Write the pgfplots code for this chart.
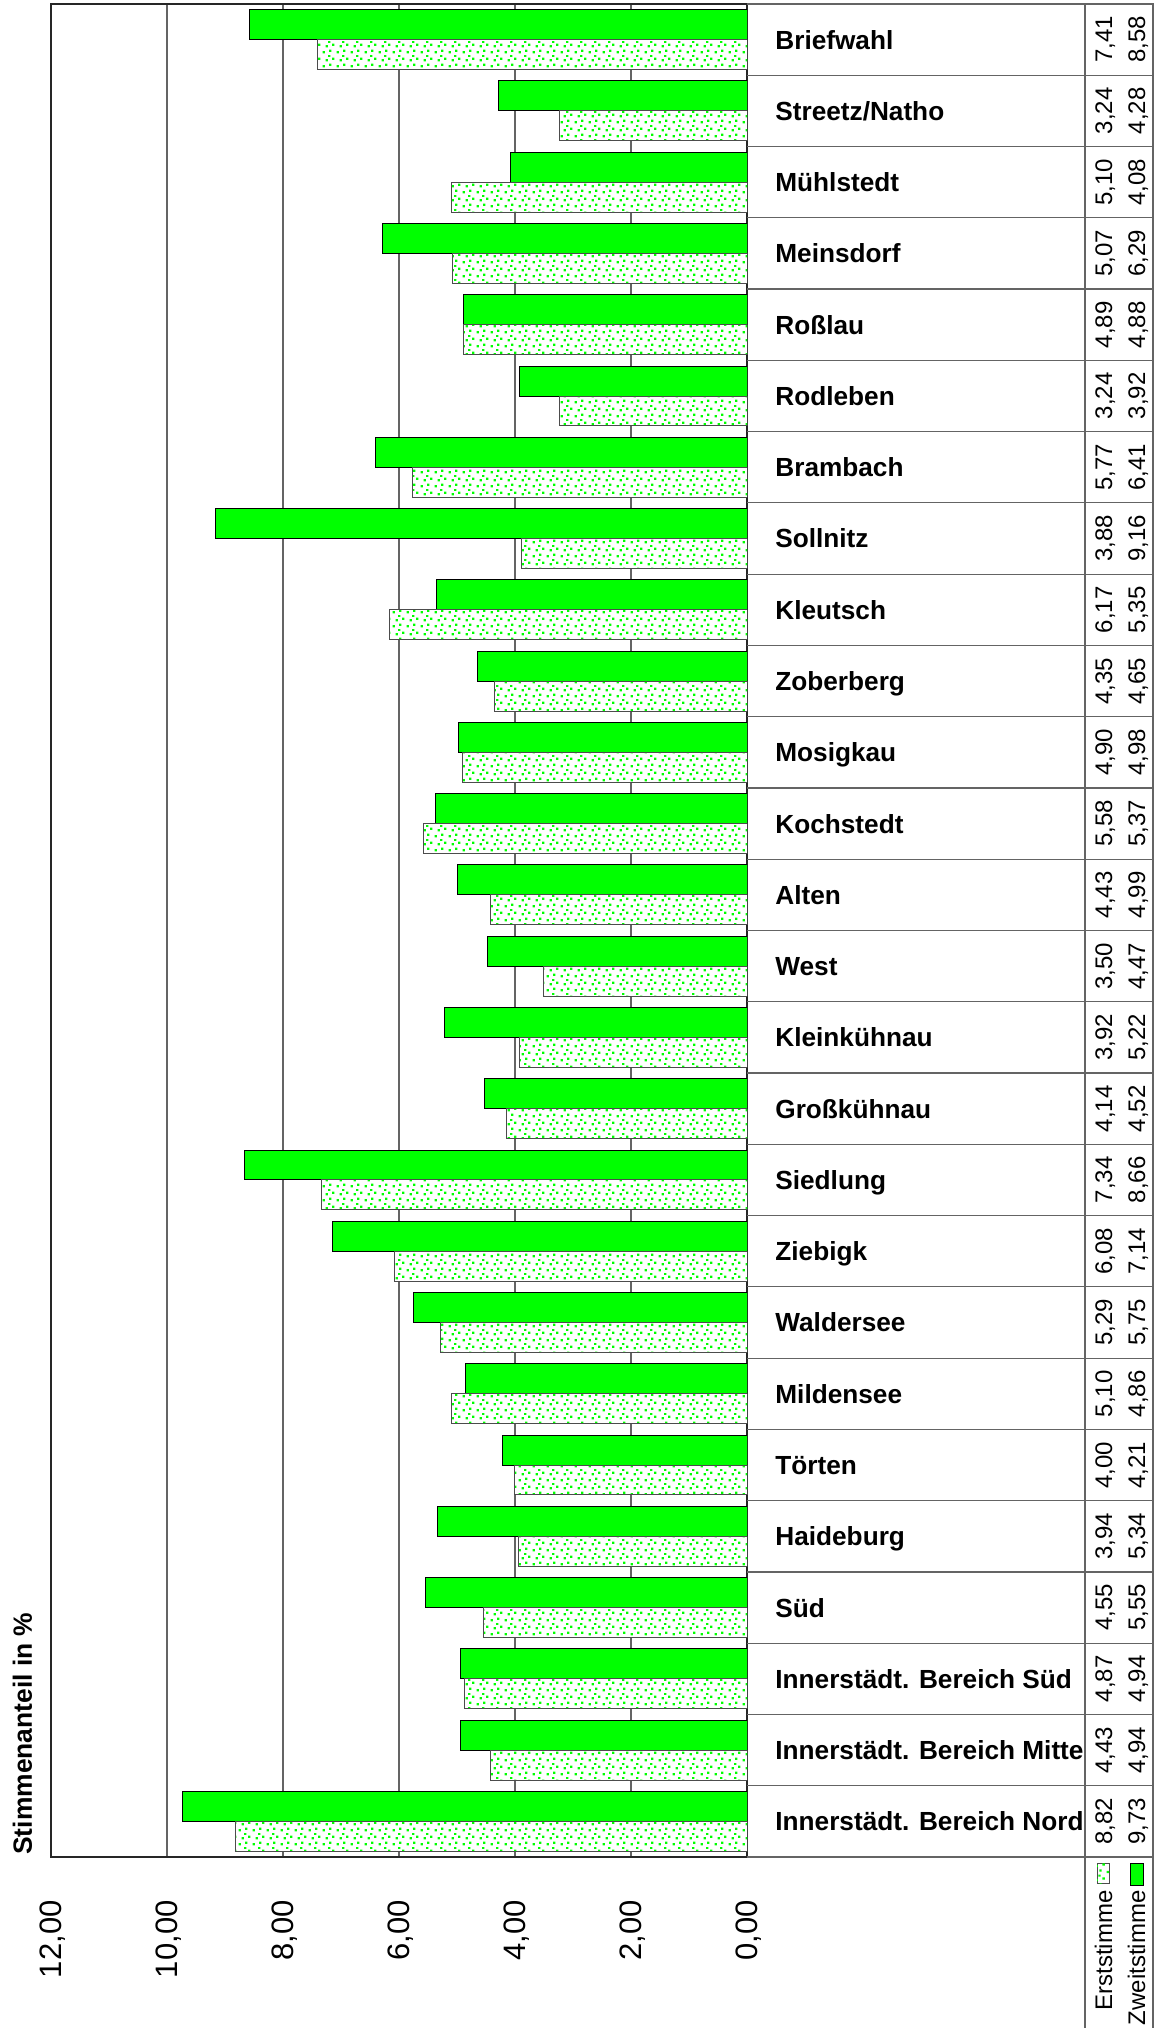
\documentclass[border=0pt]{standalone}
\usepackage{pgfplots}
\pgfplotsset{compat=1.18}
\usepackage{pgfplotstable}
\usepackage{fontspec}
\setmainfont{Liberation Sans}
\usetikzlibrary{patterns}

\definecolor{zweit}{RGB}{0,255,0}
\definecolor{linie}{RGB}{100,100,100}

% sparse green dots for Erststimme
\pgfdeclarepatternformonly{streudots}{\pgfqpoint{0pt}{0pt}}{\pgfqpoint{7pt}{7pt}}{\pgfqpoint{7pt}{7pt}}{%
  \pgfpathrectangle{\pgfqpoint{0.3pt}{0.4pt}}{\pgfqpoint{1.2pt}{1.2pt}}%
  \pgfpathrectangle{\pgfqpoint{3.8pt}{1.2pt}}{\pgfqpoint{1.2pt}{1.2pt}}%
  \pgfpathrectangle{\pgfqpoint{1.9pt}{3.5pt}}{\pgfqpoint{1.2pt}{1.2pt}}%
  \pgfpathrectangle{\pgfqpoint{5.4pt}{4.3pt}}{\pgfqpoint{1.2pt}{1.2pt}}%
  \pgfpathrectangle{\pgfqpoint{3.3pt}{5.9pt}}{\pgfqpoint{1.2pt}{1.0pt}}%
  \pgfusepath{fill}}

\pgfkeys{/pgf/number format/.cd,fixed,fixed zerofill,precision=2,use comma,assume math mode=true}

\pgfplotstableread[col sep=semicolon]{
nr;name;erst;zweit
1;Briefwahl;7.41;8.58
2;Streetz/Natho;3.24;4.28
3;Mühlstedt;5.10;4.08
4;Meinsdorf;5.07;6.29
5;Roßlau;4.89;4.88
6;Rodleben;3.24;3.92
7;Brambach;5.77;6.41
8;Sollnitz;3.88;9.16
9;Kleutsch;6.17;5.35
10;Zoberberg;4.35;4.65
11;Mosigkau;4.90;4.98
12;Kochstedt;5.58;5.37
13;Alten;4.43;4.99
14;West;3.50;4.47
15;Kleinkühnau;3.92;5.22
16;Großkühnau;4.14;4.52
17;Siedlung;7.34;8.66
18;Ziebigk;6.08;7.14
19;Waldersee;5.29;5.75
20;Mildensee;5.10;4.86
21;Törten;4.00;4.21
22;Haideburg;3.94;5.34
23;Süd;4.55;5.55
24;Innerstädt. Bereich Süd;4.87;4.94
25;Innerstädt. Bereich Mitte;4.43;4.94
26;Innerstädt. Bereich Nord;8.82;9.73
}\wahl

\begin{document}
\begin{tikzpicture}
\useasboundingbox (0,0) rectangle (578.5pt,-1014pt);
\begin{axis}[at={(25.5pt,-928.5pt)},anchor=south west,
  scale only axis,width=348pt,height=926.5pt,
  xmin=0,xmax=12,x dir=reverse,ymin=0.5,ymax=26.5,y dir=reverse,
  xtick={0,2,...,12},ytick={1,...,26},
  yticklabels from table={\wahl}{name},yticklabel pos=right,
  xmajorgrids,grid style={draw=linie,line width=0.6pt},
  major tick length=0pt,
  axis line style={draw=black!85,line width=0.6pt},
  xticklabel style={rotate=90,anchor=east,inner sep=0pt,text depth=0pt,font=\fontsize{15.5}{18}\selectfont},
  xticklabel shift=21.5pt,
  yticklabel style={anchor=west,inner sep=0pt,text height=9.4pt,text depth=0pt,font=\fontsize{13.1}{15}\selectfont\bfseries},
  yticklabel shift=14pt]
\addplot[xbar,bar width=0.42,bar shift=-0.21,fill=zweit,draw=black,line width=0.5pt] table[x=zweit,y=nr]{\wahl};
\addplot[xbar,bar width=0.42,bar shift=0.21,fill=white,draw=black!70,line width=0.5pt,
  postaction={pattern=streudots,pattern color=zweit}] table[x=erst,y=nr]{\wahl};
\end{axis}
% table frame
\draw[linie,line width=0.6pt] (373.5pt,-2pt) -- (576.5pt,-2pt) -- (576.5pt,-1014pt);
\draw[linie,line width=0.6pt] (542.5pt,-2pt) -- (542.5pt,-1014pt);
\draw[linie,line width=0.6pt] (373.5pt,-928.5pt) -- (576.5pt,-928.5pt);
\foreach \k in {1,...,25}{
  \pgfmathsetmacro\yy{-2-\k*35.6346}
  \draw[linie,line width=0.6pt] (373.5pt,\yy pt) -- (576.5pt,\yy pt);
}
% data table values
\foreach \r in {0,...,25}{
  \pgfmathsetmacro\yy{-2-(\r+0.5)*35.6346}
  \pgfplotstablegetelem{\r}{erst}\of\wahl
  \node[rotate=90,anchor=base,inner sep=0pt,font=\fontsize{12}{14}\selectfont] at (556pt,\yy pt) {\pgfmathprintnumber{\pgfplotsretval}};
  \pgfplotstablegetelem{\r}{zweit}\of\wahl
  \node[rotate=90,anchor=base,inner sep=0pt,font=\fontsize{12}{14}\selectfont] at (572.5pt,\yy pt) {\pgfmathprintnumber{\pgfplotsretval}};
}
% legend
\node[rotate=90,anchor=base east,inner sep=0pt,font=\fontsize{12}{14}\selectfont] at (556pt,-945pt) {Erststimme};
\draw[black!70,line width=0.5pt,fill=white,postaction={pattern=streudots,pattern color=zweit}] (548.5pt,-931.5pt) rectangle (554.5pt,-941.5pt);
\node[rotate=90,anchor=base east,inner sep=0pt,font=\fontsize{12}{14}\selectfont] at (572.5pt,-945pt) {Zweitstimme};
\draw[black,line width=0.5pt,fill=zweit] (565pt,-931.5pt) rectangle (571.5pt,-942.5pt);
% value axis title
\node[rotate=90,anchor=base west,inner sep=0pt,font=\fontsize{13.2}{15}\selectfont\bfseries] at (16pt,-927.5pt) {Stimmenanteil in \%};
\end{tikzpicture}
\end{document}
